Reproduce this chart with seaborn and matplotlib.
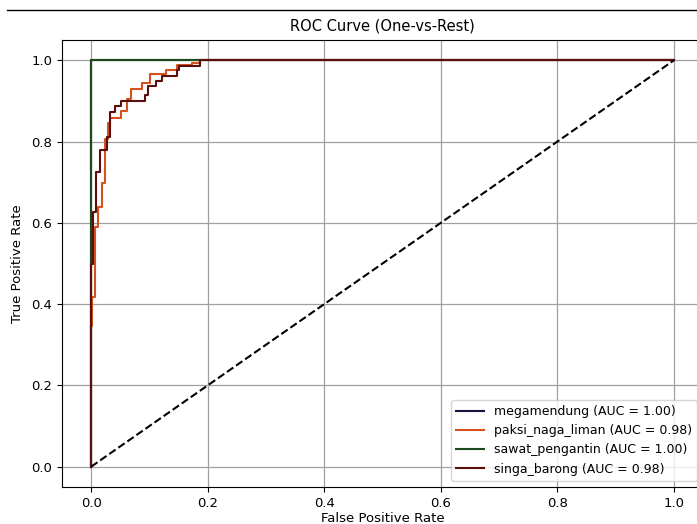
import pandas as pd
import seaborn as sns
import matplotlib.pyplot as plt
from matplotlib.lines import Line2D

# class names and auc values
classes = ["megamendung", "paksi_naga_liman", "sawat_pengantin", "singa_barong"]
aucs = [1.00, 0.98, 1.00, 0.98]
colors = ["#15153d", "#d4531c", "#1d4a1d", "#5c0d0d"]

# corner points of each roc curve
fpr_mega = [0.0, 0.0, 1.0]
tpr_mega = [0.0, 1.0, 1.0]

fpr_paksi = [0.0, 0.0, 0.002, 0.007, 0.0125, 0.018, 0.024, 0.029, 0.032, 0.052,
             0.061, 0.068, 0.087, 0.101, 0.129, 0.148, 0.173, 0.187, 1.0]
tpr_paksi = [0.0, 0.345, 0.418, 0.59, 0.64, 0.697, 0.807, 0.845, 0.857, 0.875,
             0.906, 0.930, 0.944, 0.966, 0.977, 0.988, 0.993, 1.0, 1.0]

fpr_sawat = [0.0, 0.0, 1.0]
tpr_sawat = [0.0, 1.0, 1.0]

fpr_singa = [0.0, 0.0, 0.004, 0.008, 0.015, 0.027, 0.032, 0.041, 0.052, 0.093,
             0.097, 0.111, 0.122, 0.147, 0.151, 0.186, 1.0]
tpr_singa = [0.0, 0.5, 0.627, 0.726, 0.779, 0.812, 0.873, 0.888, 0.901, 0.915,
             0.938, 0.950, 0.962, 0.975, 0.987, 1.0, 1.0]

curves = [(fpr_mega, tpr_mega), (fpr_paksi, tpr_paksi),
          (fpr_sawat, tpr_sawat), (fpr_singa, tpr_singa)]

plt.rcParams["font.size"] = 9.5

fig = plt.figure(figsize=(6.97, 5.24), dpi=100)
ax = fig.add_axes([62 / 697, 37 / 524, 641 / 697, 447 / 524])

for name, auc, col, (fpr, tpr) in zip(classes, aucs, colors, curves):
    df = pd.DataFrame({"fpr": fpr, "tpr": tpr})
    sns.lineplot(data=df, x="fpr", y="tpr", ax=ax, color=col, lw=1.5,
                 sort=False, estimator=None, drawstyle="steps-post",
                 label=f"{name} (AUC = {auc:.2f})")

ax.plot([0, 1], [0, 1], "k--", lw=1.5)
ax.set_xlim(-0.05, 1.05)
ax.set_ylim(-0.05, 1.05)
ax.set_xlabel("False Positive Rate", labelpad=2)
ax.set_ylabel("True Positive Rate", labelpad=5)
ax.set_title("ROC Curve (One-vs-Rest)", fontsize=10.5, pad=7)
ax.grid(True, color="#a0a0a0", lw=0.9)
ax.legend(loc="lower right", fontsize=9, handlelength=2.2)

# thin rule along the top of the screenshot
fig.add_artist(Line2D([7 / 697, 1], [1 - 10 / 524, 1 - 10 / 524], color="black", lw=1))

plt.savefig("out.png", dpi=100)
